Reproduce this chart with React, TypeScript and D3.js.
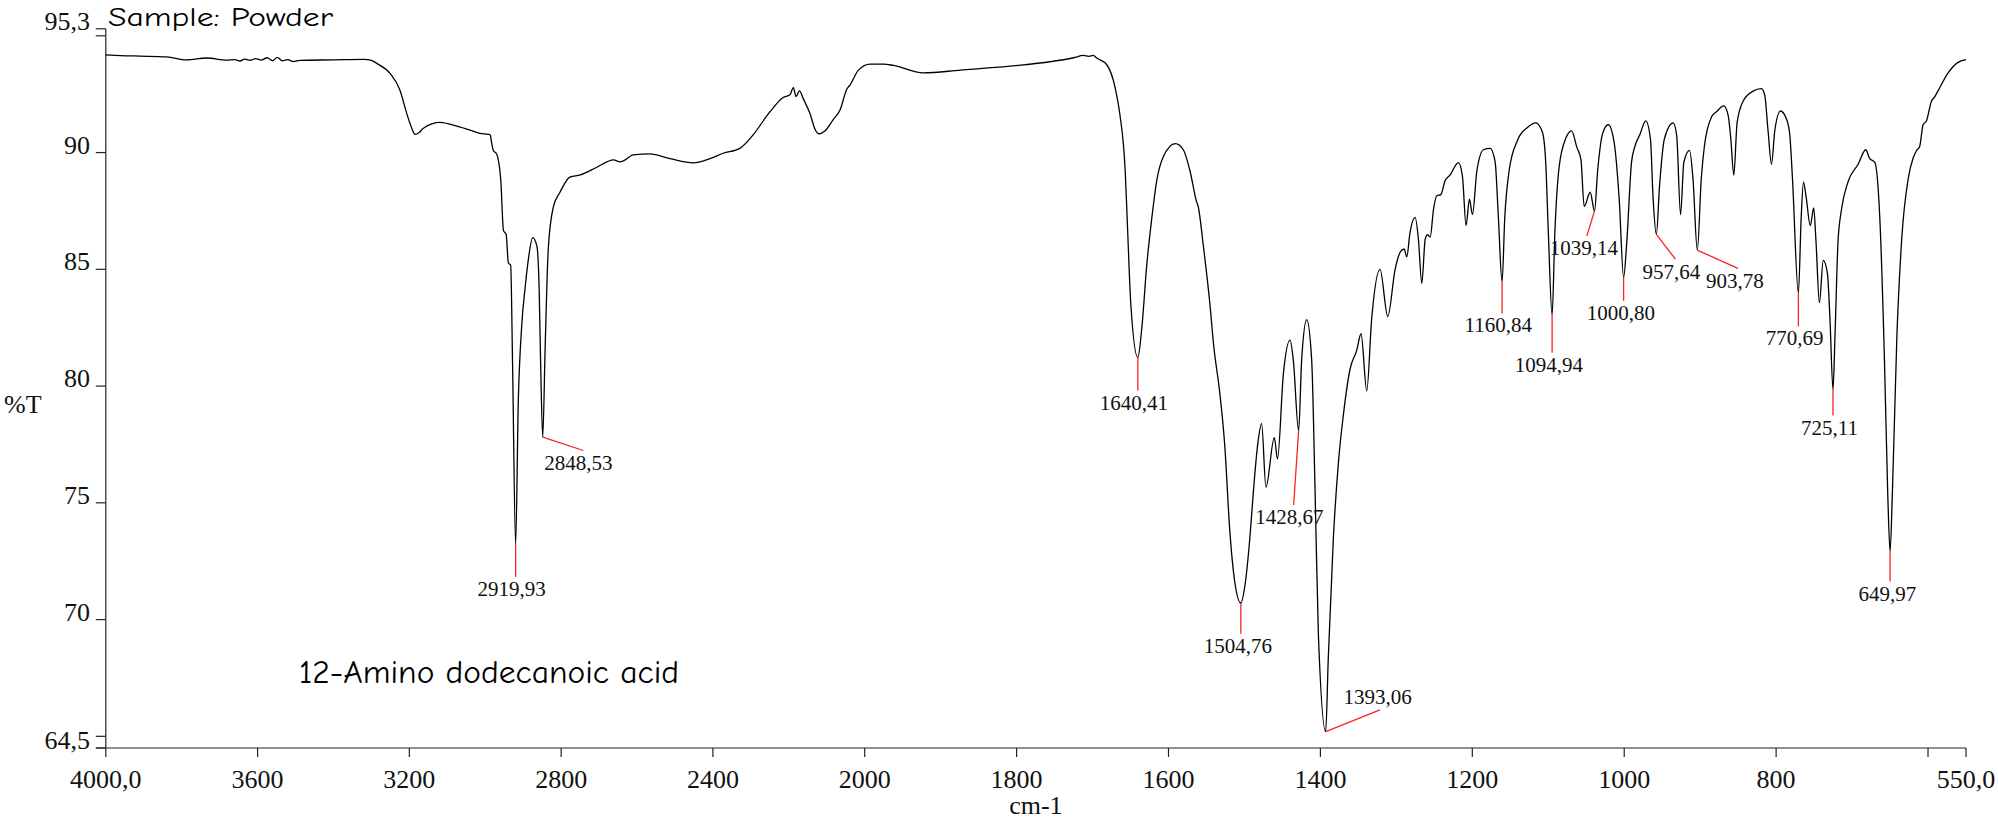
import React, { useEffect } from 'react';
import * as d3 from 'd3';

// wavenumber (cm-1) and transmittance (%T)
const wavenumbers: number[] = [
   4000, 3960, 3910, 3840, 3787, 3734, 3681, 3660, 3646, 3635, 3620, 3605, 3590, 3575, 3560, 3548,
   3535, 3520, 3506, 3488, 3401, 3321, 3300, 3286, 3251, 3225, 3207, 3195, 3185, 3175, 3163, 3119,
   3075, 3040, 3014, 2992, 2987, 2983, 2979, 2970, 2959, 2952, 2945, 2939, 2933, 2928, 2919.93, 2913,
   2904, 2895, 2887, 2875, 2864, 2858, 2854, 2848.53, 2842, 2834, 2821, 2803, 2777, 2750, 2706, 2662,
   2645, 2636, 2610, 2566, 2513, 2452, 2408, 2373, 2329, 2294, 2250, 2215, 2197, 2188, 2181, 2172,
   2162, 2144, 2131, 2120, 2105, 2083, 2065, 2047, 2039, 2016, 1993, 1975, 1962, 1923, 1874, 1809,
   1725, 1712, 1705, 1699, 1695, 1681, 1670, 1664, 1657, 1653.7, 1649.7, 1640.41, 1635, 1628.7, 1622, 1615.5,
   1607, 1591, 1580.5, 1571.7, 1563, 1561, 1554, 1545.6, 1540.5, 1532.5, 1526, 1519.4, 1512.8, 1504.76, 1500, 1493,
   1488.3, 1482.6, 1477.4, 1471.7, 1460.7, 1456.5, 1448.8, 1440, 1435.7, 1428.67, 1424.7, 1418, 1411.5, 1407, 1402.7, 1393.06,
   1389.6, 1383, 1376.4, 1370, 1361, 1352.2, 1346.5, 1339, 1332.5, 1321.5, 1311.3, 1301.8, 1295, 1289.8, 1286.3, 1282,
   1275.3, 1271, 1266.5, 1262, 1259, 1255.5, 1251, 1246.7, 1241.5, 1235.8, 1229.3, 1218.3, 1213, 1208.2, 1203.8, 1199.8,
   1194, 1185.3, 1176.5, 1170, 1165.6, 1160.84, 1157.3, 1151.6, 1140.6, 1127.5, 1116.5, 1107.7, 1103.4, 1099.9, 1094.94, 1091.3,
   1085.6, 1076.8, 1069.3, 1062.3, 1057, 1052.7, 1044.8, 1039.14, 1035, 1028.4, 1021, 1013.2, 1006.6, 1000.8, 996.6, 990.4,
   986, 979.5, 971.6, 965.5, 962, 957.64, 953.5, 947, 935.5, 931, 925.8, 921.5, 914, 909.5, 903.78, 898.5,
   894.5, 885, 878.5, 868.9, 863.2, 859.7, 855.7, 851.4, 843.5, 830.3, 819.3, 815, 810.6, 806.1, 801.8, 794.3,
   786.4, 782, 778.5, 770.69, 767, 764, 760.5, 755, 750.5, 747.5, 743, 738, 732.5, 729, 725.11, 722.5,
   718.5, 714, 705.5, 692, 682, 677, 670, 663.5, 657.5, 653, 649.97, 647, 641, 634.5, 626, 619.5,
   615, 611, 606.5, 602, 595.5, 591.5, 587, 574, 561, 550,
];

const transmittance: number[] = [
   94.18, 94.15, 94.13, 94.1, 93.97, 94.05, 93.96, 93.98, 93.92, 94.0, 93.95, 94.02, 93.96, 94.06, 93.94, 94.08,
   93.93, 93.98, 93.9, 93.95, 93.97, 93.99, 93.95, 93.82, 93.39, 92.68, 91.68, 91.1, 90.78, 90.85, 91.04, 91.29,
   91.13, 90.96, 90.82, 90.78, 90.76, 90.4, 90.1, 89.94, 88.79, 86.66, 86.5, 85.27, 85.18, 80.93, 73.2, 79.28,
   82.56, 84.2, 85.35, 86.36, 86.0, 84.2, 80.93, 77.81, 81.74, 85.84, 87.64, 88.3, 88.95, 89.04, 89.37, 89.69,
   89.6, 89.64, 89.9, 89.94, 89.74, 89.56, 89.74, 89.97, 90.18, 90.76, 91.74, 92.36, 92.48, 92.78, 92.4, 92.64,
   92.31, 91.66, 91.0, 90.8, 90.92, 91.41, 91.82, 92.72, 92.89, 93.54, 93.79, 93.79, 93.73, 93.41, 93.53, 93.7,
   94.06, 94.16, 94.12, 94.16, 94.06, 93.75, 92.74, 91.63, 89.21, 86.58, 83.55, 81.22, 82.54, 85.16, 87.19, 88.8,
   89.81, 90.38, 90.12, 89.21, 87.89, 87.7, 85.97, 83.55, 81.73, 79.71, 77.49, 73.85, 71.62, 70.71, 71.32, 73.45,
   75.46, 77.49, 78.39, 75.67, 77.79, 76.88, 80.51, 81.97, 81.12, 78.09, 81.12, 82.84, 81.12, 75.46, 69.4, 65.2,
   68.39, 73.45, 76.68, 78.7, 80.72, 81.53, 82.24, 79.8, 82.88, 85.0, 82.98, 84.97, 85.73, 85.87, 85.53, 86.58,
   87.22, 86.3, 84.4, 86.3, 86.48, 86.38, 87.59, 88.15, 88.2, 88.8, 89.04, 89.57, 88.98, 86.88, 88.0, 87.35,
   89.21, 90.12, 90.18, 89.61, 87.19, 84.46, 87.19, 89.21, 90.52, 91.07, 91.27, 90.87, 89.61, 86.58, 83.04, 86.58,
   89.41, 90.62, 90.93, 90.22, 89.71, 87.69, 88.3, 87.49, 89.21, 90.82, 91.19, 90.42, 88.0, 84.66, 86.18, 89.58,
   90.26, 90.76, 91.36, 90.6, 88.06, 86.5, 88.57, 90.6, 91.27, 90.76, 87.34, 89.58, 90.09, 88.9, 85.82, 88.9,
   90.26, 91.53, 91.75, 92.0, 91.6, 90.6, 89.04, 91.27, 92.2, 92.63, 92.74, 92.46, 90.93, 89.5, 90.93, 91.78,
   91.44, 90.76, 88.9, 83.99, 87.21, 88.73, 88.1, 86.87, 87.63, 86.19, 83.57, 85.38, 84.84, 82.8, 79.84, 82.13,
   86.19, 87.55, 88.73, 89.5, 90.12, 89.75, 89.58, 87.21, 81.28, 75.35, 72.9, 75.35, 82.13, 86.36, 88.9, 89.78,
   90.09, 90.26, 91.19, 91.36, 92.2, 92.37, 92.63, 93.39, 93.85, 93.98,
];

// labelled peaks
const peakWavenumbers: number[] = [
   2919.93, 2848.53, 1640.41, 1504.76, 1428.67, 1393.06, 1160.84, 1094.94,
   1039.14, 1000.8, 957.64, 903.78, 770.69, 725.11, 649.97,
];
const peakLabels: string[] = [
   '2919,93', '2848,53', '1640,41', '1504,76', '1428,67', '1393,06', '1160,84', '1094,94',
   '1039,14', '1000,80', '957,64', '903,78', '770,69', '725,11', '649,97',
];

// leader line end and label placement, in px relative to the peak point
const leaderOffsets: [number, number, number, number][] = [
   [0, 32, -4, 51],
   [40.6, 13.3, 35.6, 32.5],
   [0, 33, -4, 52],
   [0, 30.7, -3, 49.6],
   [-5, 74.4, -9.3, 93.4],
   [54.3, -21.7, 52, -27.4],
   [0, 31.6, -3.7, 50.5],
   [0, 37.7, -3.2, 56.6],
   [-7.7, 25, -10.7, 43.4],
   [0, 23.6, -2.7, 42.5],
   [19, 24.9, 15, 44.7],
   [40.7, 18.2, 37.7, 37.9],
   [0, 33.6, -3.7, 52.2],
   [0, 25.7, -3.5, 45.5],
   [0, 29.7, -2.8, 49.5],
];

const xTicks: number[] = [4000, 3600, 3200, 2800, 2400, 2000, 1800, 1600, 1400, 1200, 1000, 800, 600, 550];
const xTickLabels: string[] = ['4000,0', '3600', '3200', '2800', '2400', '2000', '1800', '1600', '1400', '1200', '1000', '800', '', '550,0'];
const yTicks: number[] = [95.3, 95, 90, 85, 80, 75, 70, 65, 64.5];
const yTickLabels: string[] = ['95,3', '', '90', '85', '80', '75', '70', '', '64,5'];

const W = 1998;
const H = 820;
const serif = '"Liberation Serif", "Times New Roman", serif';
const hand = '"Comic Sans MS", "Comic Neue", Lato, sans-serif';

const App: React.FC = () => {
   useEffect(() => {
      document.body.style.margin = '0';
   }, []);

   // the instrument doubles the x scale below 2000 cm-1
   const x = d3.scaleLinear().domain([4000, 2000, 550]).range([105.8, 864.7, 1966]);
   const y = d3.scaleLinear().domain([64.5, 95.3]).range([748, 28.8]);

   const points = wavenumbers.map((w, i) => [w, transmittance[i]] as [number, number]);
   const line = d3
      .line<[number, number]>()
      .x(d => x(d[0]))
      .y(d => y(d[1]))
      .curve(d3.curveMonotoneX);

   const x0 = x(4000);
   const x1 = x(550);
   const yBottom = y(64.5);

   return (
      <svg width={W} height={H} viewBox={`0 0 ${W} ${H}`} style={{ display: 'block', background: '#fff' }}>
         {/* axes */}
         <g stroke="#222" strokeWidth={1.2} fill="none">
            <line x1={x0} y1={y(95.3)} x2={x0} y2={yBottom} />
            <line x1={x0 - 10} y1={yBottom} x2={x1} y2={yBottom} />
            {yTicks.map(t => (
               <line key={`yt${t}`} x1={x0 - 10} y1={y(t)} x2={x0} y2={y(t)} />
            ))}
            {xTicks.map(t => (
               <line key={`xt${t}`} x1={x(t)} y1={yBottom} x2={x(t)} y2={yBottom + 9} />
            ))}
         </g>
         <g fontFamily={serif} fontSize={26} fill="#111">
            {yTicks.map((t, i) =>
               yTickLabels[i] ? (
                  <text key={`yl${t}`} x={90} y={y(t) + 1} textAnchor="end">
                     {yTickLabels[i]}
                  </text>
               ) : null
            )}
            {xTicks.map((t, i) =>
               xTickLabels[i] ? (
                  <text key={`xl${t}`} x={x(t)} y={788} textAnchor="middle">
                     {xTickLabels[i]}
                  </text>
               ) : null
            )}
            <text x={(x0 + x1) / 2} y={814} textAnchor="middle">cm-1</text>
            <text x={4} y={413}>%T</text>
         </g>

         {/* spectrum */}
         <path d={line(points) ?? ''} fill="none" stroke="#000" strokeWidth={1.3} />

         {/* peak picks */}
         <g>
            {peakWavenumbers.map((w, i) => {
               const px = x(w);
               const py = y(transmittance[wavenumbers.indexOf(w)]);
               const [lx, ly, tx, ty] = leaderOffsets[i];
               return (
                  <g key={`pk${w}`}>
                     <line x1={px} y1={py} x2={px + lx} y2={py + ly} stroke="#ff2020" strokeWidth={1.3} />
                     <text
                        x={px + tx}
                        y={py + ty}
                        textAnchor="middle"
                        fontFamily={serif}
                        fontSize={21}
                        fill="#111"
                     >
                        {peakLabels[i]}
                     </text>
                  </g>
               );
            })}
         </g>

         {/* sample notes */}
         <text x={108} y={26} fontFamily={hand} fontSize={27} textLength={225} lengthAdjust="spacingAndGlyphs" fill="#000">
            Sample: Powder
         </text>
         <text x={299} y={683} fontFamily={hand} fontSize={33} textLength={380} lengthAdjust="spacingAndGlyphs" fill="#000">
            12-Amino dodecanoic acid
         </text>
      </svg>
   );
};

export default App;
